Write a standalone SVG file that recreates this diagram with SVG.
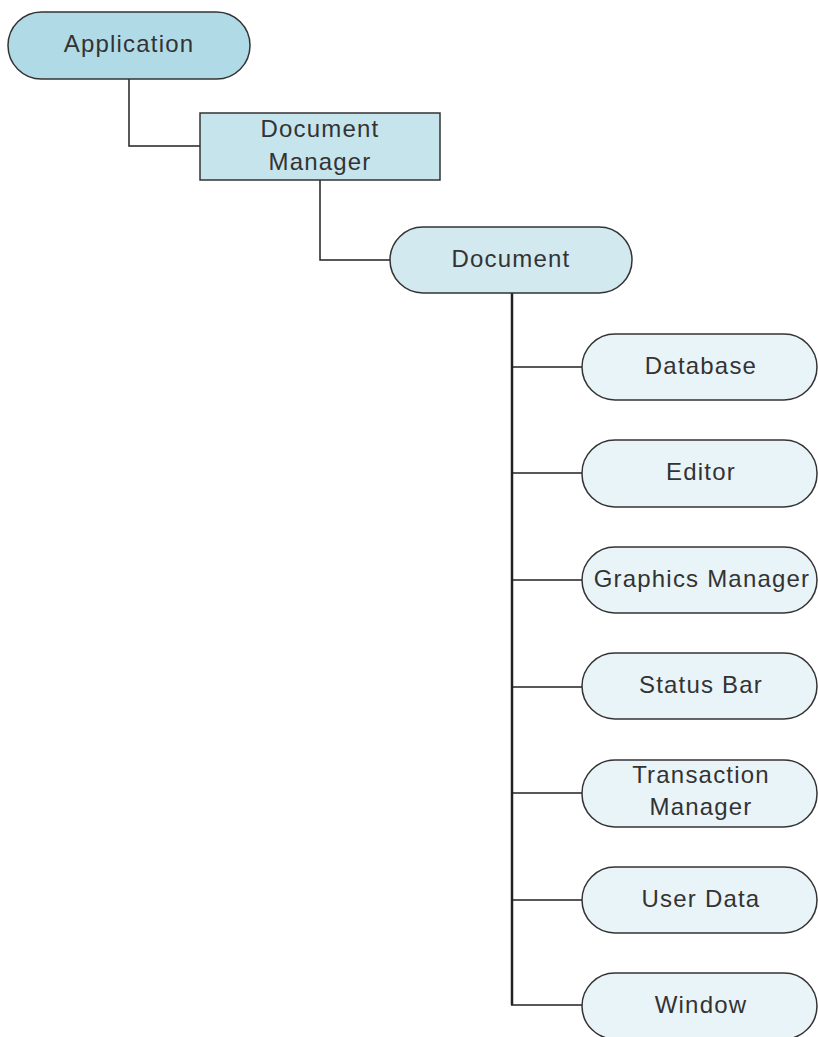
<svg xmlns="http://www.w3.org/2000/svg" width="818" height="1037" viewBox="0 0 818 1037">
<style>
.n{stroke:#333;stroke-width:1.5}
.t{font-family:"Liberation Sans",Arial,sans-serif;font-size:24px;letter-spacing:1.2px;fill:#333;text-anchor:middle}
.c{fill:none;stroke:#222;stroke-width:1.5}
.ch{fill:#e9f4f8}
</style>
<rect width="818" height="1037" fill="#fff"/>
<g id="connectors">
<path class="c" d="M129 79 V146 H200"/>
<path class="c" d="M320 180 V260 H390"/>
<path class="c" d="M512 293 V1005" style="stroke-width:2.5"/>
<path class="c" d="M511 367 H582 M511 473 H582 M511 580 H582 M511 687 H582 M511 793 H582 M511 900 H582 M511 1005 H582"/>
</g>
<g id="application"><rect class="n" x="8" y="12" width="242" height="67" rx="33.5" fill="#b0dbe6"/><text class="t" x="129" y="52">Application</text></g>
<g id="document-manager"><rect class="n" x="200" y="113" width="240" height="67" fill="#c6e4ec"/><text class="t" x="320" y="137">Document</text><text class="t" x="320" y="170">Manager</text></g>
<g id="document"><rect class="n" x="390" y="227" width="242" height="66" rx="33" fill="#d2e9f0"/><text class="t" x="511" y="267">Document</text></g>
<g id="database"><rect class="n ch" x="582" y="334" width="235" height="66" rx="33"/><text class="t" x="701" y="373.5">Database</text></g>
<g id="editor"><rect class="n ch" x="582" y="440" width="235" height="67" rx="33"/><text class="t" x="701" y="480">Editor</text></g>
<g id="graphics-manager"><rect class="n ch" x="582" y="547" width="235" height="66" rx="33"/><text class="t" x="702" y="586.5">Graphics Manager</text></g>
<g id="status-bar"><rect class="n ch" x="582" y="653" width="235" height="66" rx="33"/><text class="t" x="701" y="692.5">Status Bar</text></g>
<g id="transaction-manager"><rect class="n ch" x="582" y="760" width="235" height="67" rx="33"/><text class="t" x="701" y="783">Transaction</text><text class="t" x="701" y="815">Manager</text></g>
<g id="user-data"><rect class="n ch" x="582" y="867" width="235" height="66" rx="33"/><text class="t" x="701" y="906.5">User Data</text></g>
<g id="window"><rect class="n ch" x="582" y="973" width="235" height="66" rx="33"/><text class="t" x="701" y="1012.5">Window</text></g>
</svg>
